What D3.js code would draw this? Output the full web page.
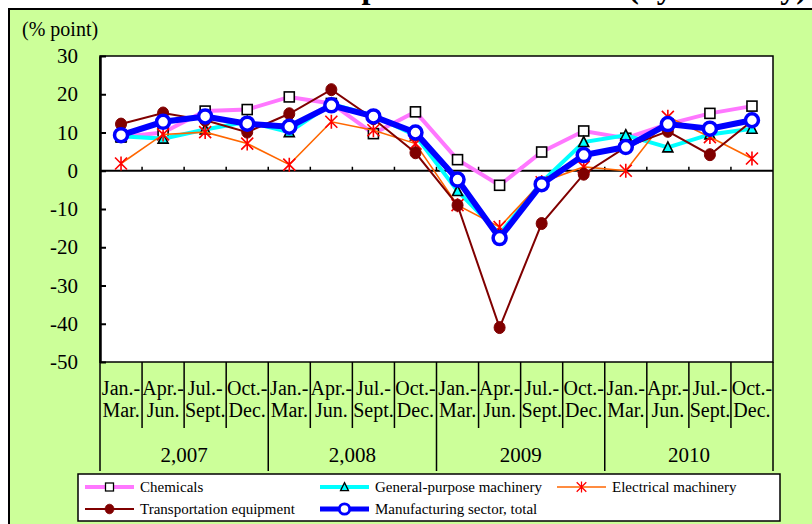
<!DOCTYPE html>
<html>
<head>
<meta charset="utf-8">
<script src="https://cdn.jsdelivr.net/npm/d3@7"></script>
<style>
  html, body { margin: 0; padding: 0; background: #ffffff; }
  svg { display: block; }
  text { font-family: "Liberation Serif", "Times New Roman", serif; fill: #000; }
</style>
</head>
<body>
<svg id="chart" width="812" height="524"></svg>
<script>
// Quarterly periods, 2007-2010
const categories = [
  "2007Q1","2007Q2","2007Q3","2007Q4",
  "2008Q1","2008Q2","2008Q3","2008Q4",
  "2009Q1","2009Q2","2009Q3","2009Q4",
  "2010Q1","2010Q2","2010Q3","2010Q4"
];
const quarterTop = ["Jan.-","Apr.-","Jul.-","Oct.-"];
const quarterBottom = ["Mar.","Jun.","Sept.","Dec."];
const yearLabels = ["2,007","2,008","2009","2010"];
const yTicks = [30, 20, 10, 0, -10, -20, -30, -40, -50];

// Contributions (% point)
const chemicals  = [8.8, 10.0, 15.6, 16.0, 19.3, 17.6, 9.7, 15.4, 2.9, -3.8, 4.9, 10.4, 8.5, 12.2, 15.0, 16.9];
const general    = [9.0, 8.4, 10.8, 12.8, 10.1, 17.5, 14.4, 9.2, -5.3, -16.5, -3.0, 7.5, 9.3, 6.1, 9.5, 11.0];
const electrical = [1.9, 9.5, 10.1, 7.1, 1.6, 12.8, 10.6, 7.1, -9.0, -14.7, -3.0, 1.0, 0.0, 14.1, 8.8, 3.2];
const transport  = [12.2, 15.1, 13.2, 10.1, 14.9, 21.2, 13.6, 4.7, -9.0, -41.0, -13.8, -0.9, 6.2, 10.3, 4.2, 13.0];
const total      = [9.3, 12.8, 14.2, 12.3, 11.5, 17.1, 14.2, 10.0, -2.3, -17.6, -3.5, 4.1, 6.2, 12.2, 11.0, 13.2];

const series = [
  { name: "Chemicals", values: chemicals, color: "#ff77ff", width: 4, marker: "square" },
  { name: "General-purpose machinery", values: general, color: "#00ffff", width: 4, marker: "triangle" },
  { name: "Electrical machinery", values: electrical, color: "#ff6600", width: 1.6, marker: "star" },
  { name: "Transportation equipment", values: transport, color: "#800000", width: 2, marker: "dot" },
  { name: "Manufacturing sector, total", values: total, color: "#0000ff", width: 6, marker: "ring" }
];

const svg = d3.select("#chart");

// Title (runs off the top edge)
svg.append("text")
  .attr("x", 807).attr("y", -2)
  .attr("text-anchor", "end")
  .style("font-size", "32px").style("font-weight", "bold")
  .text("Export Contributions (by industry)");

// Green panel
svg.append("rect")
  .attr("x", 9).attr("y", 9).attr("width", 830).attr("height", 540)
  .attr("fill", "#ccff99").attr("stroke", "#000").attr("stroke-width", 2);

const plot = { left: 100, right: 773, top: 56, bottom: 362 };

const x = d3.scaleBand().domain(categories).range([plot.left, plot.right]).padding(0);
const y = d3.scaleLinear().domain([-50, 30]).range([plot.bottom, plot.top]);

// Plot area
svg.append("rect")
  .attr("x", plot.left).attr("y", plot.top)
  .attr("width", plot.right - plot.left).attr("height", plot.bottom - plot.top)
  .attr("fill", "#fff").attr("stroke", "#000").attr("stroke-width", 1.5);

// Y axis with inward ticks; plain hyphen for negatives
const yAxis = svg.append("g")
  .attr("transform", `translate(${plot.left},0)`)
  .call(d3.axisLeft(y).tickValues(yTicks).tickFormat(d => String(d))
    .tickSizeInner(-6).tickSizeOuter(0).tickPadding(22));
yAxis.select(".domain").attr("stroke", "#000").attr("stroke-width", 2.5);
yAxis.selectAll(".tick line").attr("stroke", "#000").attr("stroke-width", 2);
yAxis.selectAll(".tick text").style("font-size", "21px").style("font-family", "'Liberation Serif', serif");

svg.append("text")
  .attr("x", 22).attr("y", 36)
  .style("font-size", "20px")
  .text("(% point)");

// Zero line with category ticks
svg.append("line")
  .attr("x1", plot.left).attr("x2", plot.right)
  .attr("y1", y(0)).attr("y2", y(0))
  .attr("stroke", "#000").attr("stroke-width", 2);
svg.append("g").selectAll("line")
  .data(categories.slice(1))
  .join("line")
  .attr("x1", d => x(d)).attr("x2", d => x(d))
  .attr("y1", y(0)).attr("y2", y(0) - 4)
  .attr("stroke", "#000").attr("stroke-width", 1.5);

// Category table below the plot
const table = svg.append("g");
categories.forEach((c, i) => {
  const x0 = x(c);
  const isYearEdge = i % 4 === 0;
  table.append("line")
    .attr("x1", x0).attr("x2", x0)
    .attr("y1", plot.bottom).attr("y2", isYearEdge ? 471 : 428)
    .attr("stroke", "#000").attr("stroke-width", 1.5);
  const cx = x0 + x.bandwidth() / 2;
  table.append("text").attr("x", cx).attr("y", 395)
    .attr("text-anchor", "middle").style("font-size", "20px")
    .text(quarterTop[i % 4]);
  table.append("text").attr("x", cx).attr("y", 417)
    .attr("text-anchor", "middle").style("font-size", "20px")
    .text(quarterBottom[i % 4]);
});
table.append("line")
  .attr("x1", plot.right).attr("x2", plot.right)
  .attr("y1", plot.bottom).attr("y2", 471)
  .attr("stroke", "#000").attr("stroke-width", 1.5);
yearLabels.forEach((yl, k) => {
  const a = x(categories[k * 4]);
  const b = x(categories[k * 4 + 3]) + x.bandwidth();
  table.append("text").attr("x", (a + b) / 2).attr("y", 462)
    .attr("text-anchor", "middle").style("font-size", "21px")
    .text(yl);
});

// Marker drawing
function drawMarker(g, type, color) {
  switch (type) {
    case "square":
      g.append("rect").attr("x", -5).attr("y", -5).attr("width", 10).attr("height", 10)
        .attr("fill", "#fff").attr("stroke", "#000").attr("stroke-width", 1.6);
      break;
    case "triangle":
      g.append("path").attr("d", "M0,-5.5L5,4.5L-5,4.5Z")
        .attr("fill", "#00ffff").attr("stroke", "#000").attr("stroke-width", 1.6);
      break;
    case "star":
      g.append("path").attr("d", "M-6,-6L6,6M-6,6L6,-6M0,-7L0,7")
        .attr("fill", "none").attr("stroke", "#ff0000").attr("stroke-width", 1.6);
      break;
    case "dot":
      g.append("ellipse").attr("rx", 5.5).attr("ry", 6)
        .attr("fill", color).attr("stroke", color).attr("stroke-width", 1);
      break;
    case "ring":
      g.append("circle").attr("r", 6.5)
        .attr("fill", "#fff").attr("stroke", color).attr("stroke-width", 3.5);
      break;
  }
}

const line = d3.line()
  .x((d, i) => x(categories[i]) + x.bandwidth() / 2)
  .y(d => y(d));

series.forEach(s => {
  const g = svg.append("g");
  g.append("path")
    .attr("d", line(s.values))
    .attr("fill", "none").attr("stroke", s.color)
    .attr("stroke-width", s.width).attr("stroke-linejoin", "miter");
  s.values.forEach((v, i) => {
    const m = g.append("g")
      .attr("transform", `translate(${x(categories[i]) + x.bandwidth() / 2},${y(v)})`);
    drawMarker(m, s.marker, s.color);
  });
});

// Legend
const legend = svg.append("g");
legend.append("rect")
  .attr("x", 78).attr("y", 474).attr("width", 702).attr("height", 47)
  .attr("fill", "#fff").attr("stroke", "#000").attr("stroke-width", 1.5);
const legendPos = [
  { x: 85, y: 487 }, { x: 320, y: 487 }, { x: 557, y: 487 },
  { x: 85, y: 509 }, { x: 320, y: 509 }
];
series.forEach((s, i) => {
  const p = legendPos[i];
  const g = legend.append("g");
  g.append("line")
    .attr("x1", p.x).attr("x2", p.x + 49)
    .attr("y1", p.y).attr("y2", p.y)
    .attr("stroke", s.color).attr("stroke-width", Math.min(s.width, 5));
  const m = g.append("g").attr("transform", `translate(${p.x + 24.5},${p.y}) scale(0.8)`);
  drawMarker(m, s.marker, s.color);
  g.append("text")
    .attr("x", p.x + 55).attr("y", p.y + 5)
    .style("font-size", "15px")
    .text(s.name);
});
</script>
</body>
</html>
